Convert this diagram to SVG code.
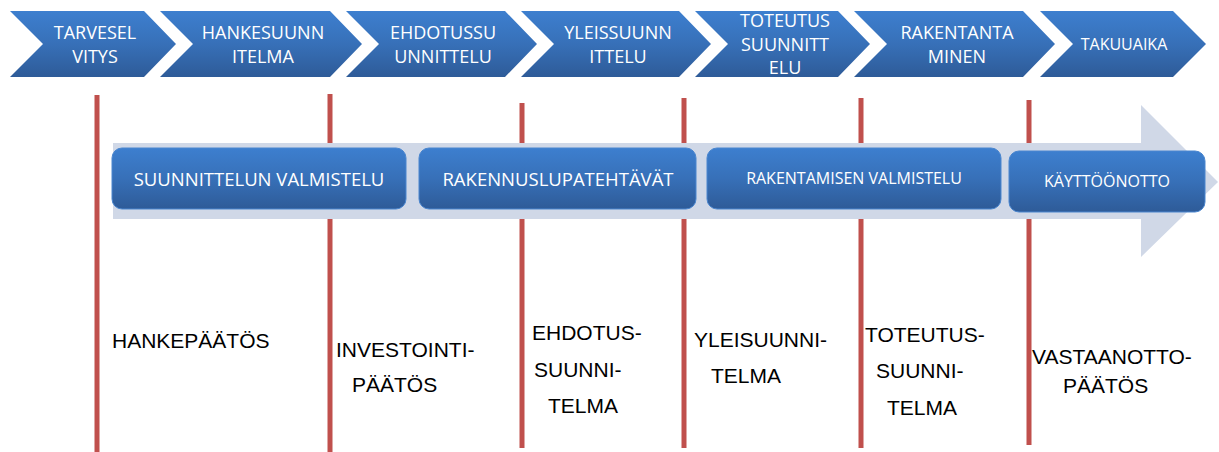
<svg xmlns="http://www.w3.org/2000/svg" width="1219" height="452" viewBox="0 0 1219 452">
<defs>
<linearGradient id="blue" x1="0" y1="0" x2="0" y2="1">
<stop offset="0" stop-color="#3d7fcf"/>
<stop offset="0.5" stop-color="#3770b8"/>
<stop offset="1" stop-color="#2e5b98"/>
</linearGradient>
<style>
.chev{fill:url(#blue);}
.ct{font-family:"Open Sans","Liberation Sans",sans-serif;font-size:18px;fill:#ffffff;text-anchor:middle;}
.box{fill:url(#blue);stroke:#4a86cf;stroke-width:1;}
.bt{font-family:"Open Sans","Liberation Sans",sans-serif;fill:#ffffff;text-anchor:middle;}
.ms{stroke:#c0504d;stroke-width:5;fill:none;}
.lab{font-family:"Liberation Sans",Arial,sans-serif;font-size:21px;fill:#000000;}
</style>
</defs>
<rect width="1219" height="452" fill="#ffffff"/>

<g id="phase-tarveselvitys">
<path class="chev" d="M10,11 H144 L176,44 L144,77 H10 L43,44 Z"/>
<text class="ct" x="95" y="39">TARVESEL</text>
<text class="ct" x="95" y="63">VITYS</text>
</g>
<g id="phase-hankesuunnitelma">
<path class="chev" d="M160,11 H330 L362,44 L330,77 H160 L193,44 Z"/>
<text class="ct" x="263" y="39">HANKESUUNN</text>
<text class="ct" x="263" y="63">ITELMA</text>
</g>
<g id="phase-ehdotussuunnittelu">
<path class="chev" d="M346,11 H505 L537,44 L505,77 H346 L379,44 Z"/>
<text class="ct" x="443" y="39">EHDOTUSSU</text>
<text class="ct" x="443" y="63">UNNITTELU</text>
</g>
<g id="phase-yleissuunnittelu">
<path class="chev" d="M521,11 H679 L711,44 L679,77 H521 L554,44 Z"/>
<text class="ct" x="618" y="39">YLEISSUUNN</text>
<text class="ct" x="618" y="63">ITTELU</text>
</g>
<g id="phase-toteutussuunnittelu">
<path class="chev" d="M695,11 H838 L870,44 L838,77 H695 L728,44 Z"/>
<text class="ct" x="785" y="27">TOTEUTUS</text>
<text class="ct" x="785" y="51">SUUNNITT</text>
<text class="ct" x="785" y="74">ELU</text>
</g>
<g id="phase-rakentaminen">
<path class="chev" d="M854,11 H1023 L1055,44 L1023,77 H854 L887,44 Z"/>
<text class="ct" x="957" y="39">RAKENTANTA</text>
<text class="ct" x="957" y="63">MINEN</text>
</g>
<g id="phase-takuuaika">
<path class="chev" d="M1040,11 H1173 L1206,44 L1173,77 H1040 L1073,44 Z"/>
<text class="ct" x="1124" y="50" style="font-size:16px">TAKUUAIKA</text>
</g>

<g id="connectors">
<line class="ms" x1="97" y1="95" x2="97" y2="452"/>
<line class="ms" x1="330" y1="94" x2="330" y2="452"/>
<line class="ms" x1="522" y1="103" x2="522" y2="448"/>
<line class="ms" x1="684" y1="98" x2="684" y2="448"/>
<line class="ms" x1="861" y1="98" x2="861" y2="448"/>
<line class="ms" x1="1029" y1="100" x2="1029" y2="445"/>
</g>

<g id="timeline-arrow">
<polygon points="113,143 1141,143 1141,105 1218,182 1141,257 1141,219 113,219" fill="#d0d8e7"/>
</g>

<g id="stage-suunnittelun-valmistelu">
<rect class="box" x="112" y="148" width="294" height="61" rx="10"/>
<text class="bt" x="259" y="186" style="font-size:18.5px">SUUNNITTELUN VALMISTELU</text>
</g>
<g id="stage-rakennuslupatehtavat">
<rect class="box" x="419" y="148" width="277" height="61" rx="10"/>
<text class="bt" x="558" y="186" style="font-size:18.5px">RAKENNUSLUPATEHTÄVÄT</text>
</g>
<g id="stage-rakentamisen-valmistelu">
<rect class="box" x="707" y="148" width="294" height="61" rx="10"/>
<text class="bt" x="854" y="184" style="font-size:16px">RAKENTAMISEN VALMISTELU</text>
</g>
<g id="stage-kayttoonotto">
<rect class="box" x="1009" y="151" width="196" height="61" rx="10"/>
<text class="bt" x="1107" y="187" style="font-size:16px">KÄYTTÖÖNOTTO</text>
</g>

<g id="decision-hankepaatos">
<text class="lab" x="112" y="348">HANKEPÄÄTÖS</text>
</g>
<g id="decision-investointipaatos">
<text class="lab" x="336" y="357">INVESTOINTI-</text>
<text class="lab" x="352" y="392">PÄÄTÖS</text>
</g>
<g id="decision-ehdotussuunnitelma">
<text class="lab" x="532" y="340">EHDOTUS-</text>
<text class="lab" x="534" y="377">SUUNNI-</text>
<text class="lab" x="548" y="413">TELMA</text>
</g>
<g id="decision-yleissuunnitelma">
<text class="lab" x="694" y="347">YLEISUUNNI-</text>
<text class="lab" x="711" y="383">TELMA</text>
</g>
<g id="decision-toteutussuunnitelma">
<text class="lab" x="865" y="342">TOTEUTUS-</text>
<text class="lab" x="876" y="378">SUUNNI-</text>
<text class="lab" x="887" y="415">TELMA</text>
</g>
<g id="decision-vastaanottopaatos">
<text class="lab" x="1032" y="364">VASTAANOTTO-</text>
<text class="lab" x="1063" y="393">PÄÄTÖS</text>
</g>
</svg>
